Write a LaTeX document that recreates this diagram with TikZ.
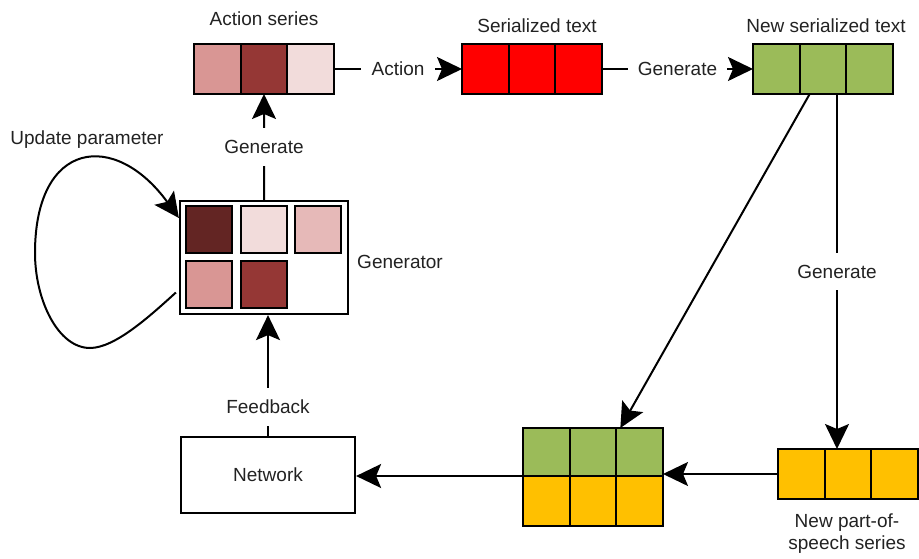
\documentclass[tikz,border=0pt]{standalone}
\usepackage{fontspec}
\setmainfont{Liberation Sans}
\usetikzlibrary{arrows.meta}
\definecolor{rdA}{HTML}{632523}
\definecolor{rdB}{HTML}{953735}
\definecolor{rdC}{HTML}{D99694}
\definecolor{rdD}{HTML}{E6B9B8}
\definecolor{rdE}{HTML}{F2DCDB}
\definecolor{grn}{HTML}{9BBB59}
\definecolor{ylw}{HTML}{FFC000}
\definecolor{rdd}{HTML}{FF0000}
\definecolor{txt}{HTML}{222222}
\begin{document}
\begin{tikzpicture}[x=1pt,y=-1pt,
  font=\fontsize{19}{22}\selectfont, text=txt,
  cell/.style={draw=black, line width=2.2pt, minimum width=46.67pt, minimum height=50pt, inner sep=0pt, outer sep=0pt, anchor=north west},
  gcell/.style={draw=black, line width=2pt, minimum width=46pt, minimum height=47pt, inner sep=0pt, outer sep=0pt, anchor=north west},
  conn/.style={line width=2pt, draw=black},
  arr/.style={conn, -{Stealth[length=25pt,width=24pt,inset=5pt]}},
  lab/.style={fill=white, inner xsep=11pt, inner ysep=12pt},
  title/.style={inner sep=1pt}
]
\useasboundingbox (0,0) rectangle (919,559);

% Action series
\foreach \i/\c in {1/rdC,2/rdB,3/rdE}
  \node[cell, fill=\c] (as\i) at ({194+(\i-1)*46.67},44) {};
\node[title] (tAS) at (264,19) {Action series};

% Serialized text
\foreach \i in {1,2,3}
  \node[cell, fill=rdd] (st\i) at ({462+(\i-1)*46.67},44) {};
\node[title] (tST) at (537,26) {Serialized text};

% New serialized text
\foreach \i in {1,2,3}
  \node[cell, fill=grn] (ns\i) at ({753+(\i-1)*46.67},44) {};
\node[title] (tNS) at (826,26) {New serialized text};

% Generator
\node[draw=black, line width=2.2pt, minimum width=168pt, minimum height=113pt, inner sep=0pt] (gen) at (264,257.5) {};
\node[gcell, fill=rdA] (g1) at (186,206) {};
\node[gcell, fill=rdE] (g2) at (241,206) {};
\node[gcell, fill=rdD] (g3) at (295,206) {};
\node[gcell, fill=rdC] (g4) at (186,261) {};
\node[gcell, fill=rdB] (g5) at (241,261) {};
\node[title] (tGen) at (400,262) {Generator};
\node[title] (tUP) at (87,140) {Update parameter};

% Network
\node[draw=black, line width=2.2pt, minimum width=174pt, minimum height=76pt, inner sep=0pt] (net) at (268,475) {Network};

% Combined box
\foreach \i in {1,2,3} {
  \node[cell, fill=grn, minimum height=48pt] (ct\i) at ({523+(\i-1)*46.67},428) {};
  \node[cell, fill=ylw, minimum height=50pt] (cb\i) at ({523+(\i-1)*46.67},476) {};
}

% New part-of-speech series
\foreach \i in {1,2,3}
  \node[cell, fill=ylw] (ps\i) at ({778+(\i-1)*46.67},449) {};
\node[title, align=center] (tPS) at (847,534) {New part-of-\\speech series};

% Connectors
\draw[arr] (as3.east) -- node[lab]{Action} (st1.west);
\draw[arr] (st3.east) -- node[lab, inner xsep=10pt]{Generate} (ns1.west);
\draw[arr] (gen.north) -- node[lab, pos=0.5]{Generate} (as2.south);
\draw[arr] (net.north) -- node[lab, pos=0.24]{Feedback} (net.north |- gen.south);
\coordinate (gd) at ([xshift=14pt]ns2.south);
\draw[arr] (gd) -- node[lab, pos=0.5]{Generate} (gd |- ps2.north);
\draw[arr] ([xshift=10pt]ns2.south west) -- ([xshift=4pt]ct3.north west);
\draw[arr] (ps1.west) -- (ps1.west -| cb3.north east);
\draw[arr] (cb1.north west) -- (cb1.north west -| net.east);
\coordinate (lpS) at ([shift={(-3pt,-35pt)}]gen.west);
\coordinate (lpE) at ([shift={(0pt,39.5pt)}]gen.west);
\draw[arr] (lpS) .. controls (150,316) and (115,348) .. (90,348)
  .. controls (58,348) and (35,300) .. (35,253)
  .. controls (35,140) and (115,130) .. (lpE);
\end{tikzpicture}
\end{document}
